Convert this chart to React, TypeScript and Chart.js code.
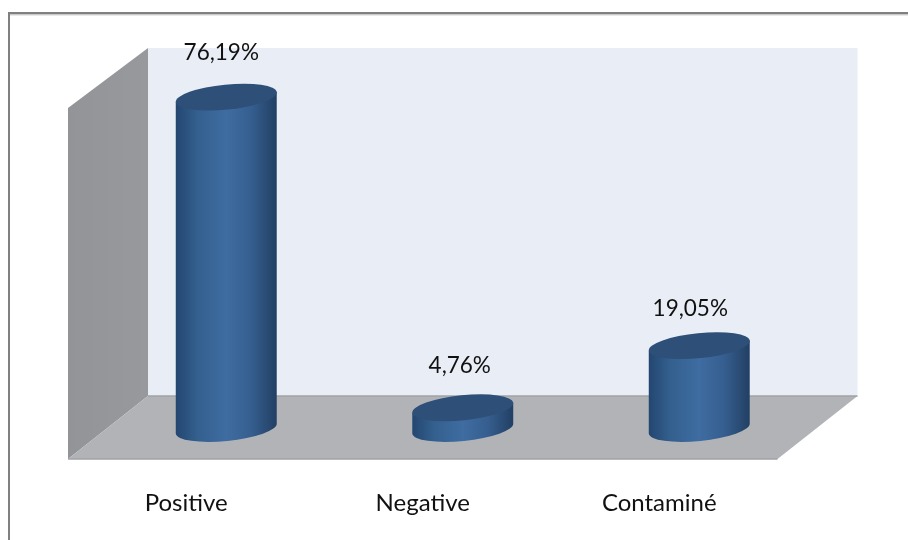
import React, { useEffect, useRef } from "react";
import { Chart, registerables } from "chart.js";

Chart.register(...registerables);

const categories = ["Positive", "Negative", "Contaminé"];
const percentages = [76.19, 4.76, 19.05];

const FONT = "Lato, 'Open Sans', sans-serif";
const TILT = (-5.7 * Math.PI) / 180;
const CAP_RY = 12.5;

const formatPercent = (v: number) => v.toFixed(2).replace(".", ",") + "%";

// Pseudo-3D room behind the columns: back wall, left wall and floor.
const roomPlugin = {
  id: "room",
  beforeDatasetsDraw(chart: any) {
    const { ctx, chartArea: a } = chart;
    const frontL = a.left - 40;
    const backL = a.left + 40;
    const backR = a.right + 40;
    const frontR = a.right - 40;
    const backTop = a.top - 32.5;
    const backBottom = a.bottom - 32.5;
    const frontTop = a.top + 27.5;
    const frontBottom = a.bottom + 30.5;

    ctx.save();
    ctx.fillStyle = "#e8edf6";
    ctx.fillRect(backL, backTop, backR - backL, backBottom - backTop);

    const wall = ctx.createLinearGradient(frontL, 0, backL, 0);
    wall.addColorStop(0, "#929497");
    wall.addColorStop(1, "#97999c");
    ctx.fillStyle = wall;
    ctx.beginPath();
    ctx.moveTo(frontL, frontTop);
    ctx.lineTo(backL, backTop);
    ctx.lineTo(backL, backBottom);
    ctx.lineTo(frontL, frontBottom);
    ctx.closePath();
    ctx.fill();

    ctx.fillStyle = "#b1b3b7";
    ctx.beginPath();
    ctx.moveTo(frontL, frontBottom);
    ctx.lineTo(backL, backBottom);
    ctx.lineTo(backR, backBottom);
    ctx.lineTo(frontR, frontBottom);
    ctx.closePath();
    ctx.fill();

    ctx.strokeStyle = "#a0a2a6";
    ctx.lineWidth = 1.5;
    ctx.beginPath();
    ctx.moveTo(backL, backBottom);
    ctx.lineTo(backR, backBottom);
    ctx.moveTo(frontL, frontBottom);
    ctx.lineTo(frontR, frontBottom);
    ctx.stroke();
    ctx.restore();
  },
};

// Outer frame, open on the right and at the bottom.
const framePlugin = {
  id: "frame",
  beforeDraw(chart: any) {
    const { ctx, width, height } = chart;
    ctx.save();
    ctx.fillStyle = "#808080";
    ctx.fillRect(8, 12, width - 8, 2.5);
    ctx.fillRect(8, 12, 2, height - 12);
    ctx.fillStyle = "#d4d4d4";
    ctx.fillRect(10, 14.5, width - 10, 1);
    ctx.restore();
  },
};

// Each bar element is redrawn as a tilted cylinder with its value above it.
const cylinderPlugin = {
  id: "cylinders",
  afterDatasetsDraw(chart: any, _args: any, opts: any) {
    const { ctx } = chart;
    const bars = chart.getDatasetMeta(0).data;
    const nudges = opts.labelNudges;
    bars.forEach((bar: any, i: number) => {
      const { x, y, base, width } = bar.getProps(["x", "y", "base", "width"], true);
      const rx = width / 2;
      const dx = rx * Math.cos(TILT);
      const dy = rx * Math.sin(TILT);

      const side = ctx.createLinearGradient(x - rx, 0, x + rx, 0);
      side.addColorStop(0, "#234670");
      side.addColorStop(0.22, "#34608f");
      side.addColorStop(0.5, "#3f6ca1");
      side.addColorStop(0.74, "#365f90");
      side.addColorStop(1, "#223f63");

      ctx.save();
      ctx.fillStyle = side;
      ctx.beginPath();
      ctx.moveTo(x - dx, y - dy);
      ctx.lineTo(x - dx, base - dy);
      ctx.ellipse(x, base, rx, CAP_RY, TILT, Math.PI, 0, true);
      ctx.lineTo(x + dx, y + dy);
      ctx.closePath();
      ctx.fill();

      ctx.fillStyle = "#2d4f78";
      ctx.beginPath();
      ctx.ellipse(x, y, rx, CAP_RY, TILT, 0, Math.PI * 2);
      ctx.fill();

      ctx.fillStyle = "#111111";
      ctx.font = `22.5px ${FONT}`;
      ctx.textAlign = "center";
      ctx.textBaseline = "middle";
      ctx.fillText(formatPercent(percentages[i]), x + nudges[i][0], y + nudges[i][1]);
      ctx.restore();
    });
  },
};

export default function App() {
  const ref = useRef<HTMLCanvasElement>(null);

  useEffect(() => {
    const chart = new Chart(ref.current!, {
      type: "bar",
      data: {
        labels: categories,
        datasets: [
          {
            data: percentages,
            backgroundColor: "rgba(0,0,0,0)",
            borderWidth: 0,
            categoryPercentage: 1,
            barPercentage: 0.429,
          },
        ],
      },
      options: {
        responsive: false,
        animation: false,
        layout: { padding: { left: 108, right: 90.5, top: 80.5, bottom: 11.5 } },
        plugins: {
          legend: { display: false },
          title: { display: false },
          tooltip: { enabled: false },
          cylinders: {
            labelNudges: [
              [-5, -44],
              [-3, -42],
              [-9, -37],
            ],
          },
        } as any,
        scales: {
          x: {
            grid: { display: false, drawTicks: false },
            border: { display: false },
            afterFit: (axis: any) => {
              axis.height = 100;
            },
            ticks: {
              color: "#111111",
              font: { family: FONT, size: 24 },
              padding: 60,
              labelOffset: -40,
              maxRotation: 0,
            },
          },
          y: {
            display: false,
            min: 0,
            max: 80,
          },
        },
      },
      plugins: [framePlugin, roomPlugin, cylinderPlugin],
    });
    return () => chart.destroy();
  }, []);

  return (
    <canvas
      ref={ref}
      width={908}
      height={540}
      style={{ position: "absolute", left: 0, top: 0, display: "block" }}
    />
  );
}
